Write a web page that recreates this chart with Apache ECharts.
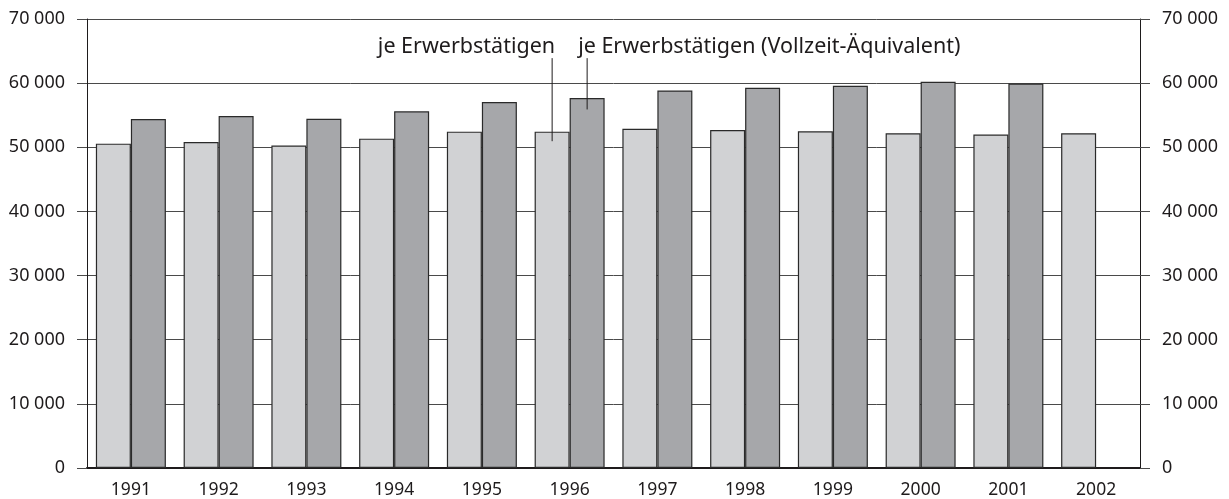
<!DOCTYPE html>
<html>
<head>
<meta charset="utf-8">
<script src="https://cdn.jsdelivr.net/npm/echarts@6/dist/echarts.min.js"></script>
<style>
html,body{margin:0;padding:0;background:#fff;}
#chart{width:1229px;height:499px;}
</style>
</head>
<body>
<div id="chart"></div>
<script>
var years = ['1991','1992','1993','1994','1995','1996','1997','1998','1999','2000','2001','2002'];
var jeErwerbstaetigen = [50570, 50830, 50260, 51350, 52440, 52440, 52900, 52690, 52490, 52190, 51980, 52190];
var jeVollzeit = [54400, 54870, 54460, 55600, 57050, 57670, 58850, 59270, 59580, 60200, 59950, null];
var yTickLabels = ['0','10 000','20 000','30 000','40 000','50 000','60 000','70 000'];
var seriesNames = ['je Erwerbstätigen', 'je Erwerbstätigen (Vollzeit-Äquivalent)'];

var FONT = '"Noto Sans", "Open Sans", sans-serif';
var TXT = '#1e1b1c';
var GRID = '#4a4a4a';
var BARW = 35;

var chart = echarts.init(document.getElementById('chart'), null, {renderer:'canvas'});

function yAxisCfg(pos, split){
  return {
    type:'value', position:pos, min:0, max:70000, interval:10000,
    axisLine:{show:true, lineStyle:{color:TXT, width:1}},
    axisTick:{show:true, length:10, inside:false, lineStyle:{color:GRID, width:1}},
    splitLine:{show:split, lineStyle:{color:GRID, width:1}},
    axisLabel:{
      margin:22, color:TXT, fontFamily:FONT, fontSize:18,
      formatter:function(v){ return yTickLabels[Math.round(v/10000)]; }
    }
  };
}

var option = {
  animation:false,
  backgroundColor:'#ffffff',
  grid:{left:87, right:89, top:19, bottom:30, containLabel:false},
  xAxis:{
    type:'category', data:years,
    axisLine:{show:true, lineStyle:{color:TXT, width:2}},
    axisTick:{show:false},
    axisLabel:{margin:13, color:TXT, fontFamily:FONT, fontSize:17.5},
    splitLine:{show:false}
  },
  yAxis:[yAxisCfg('left', true), yAxisCfg('right', false)],
  series:[
    {name:seriesNames[0], type:'bar', data:jeErwerbstaetigen, barWidth:BARW, barGap:'0%',
     itemStyle:{color:'#d1d2d4', borderColor:'#2a2a2a', borderWidth:1.2}},
    {name:seriesNames[1], type:'bar', data:jeVollzeit, barWidth:BARW, barGap:'0%',
     itemStyle:{color:'#a6a7aa', borderColor:'#2a2a2a', borderWidth:1.2}}
  ]
};
chart.setOption(option);

// Annotations pointing at the 1996 bars, positioned through the chart's own scales
var idx = years.indexOf('1996');
var cx = chart.convertToPixel({xAxisIndex:0}, idx);
var x1 = cx - BARW/2, x2 = cx + BARW/2;
var yTop = chart.convertToPixel({yAxisIndex:0}, 63900);
var yEnd1 = chart.convertToPixel({yAxisIndex:0}, 50950);
var yEnd2 = chart.convertToPixel({yAxisIndex:0}, 55900);
var yText = chart.convertToPixel({yAxisIndex:0}, 65650);

chart.setOption({
  graphic:[
    {type:'line', shape:{x1:x1, y1:yTop, x2:x1, y2:yEnd1}, style:{stroke:TXT, lineWidth:1}, z:100},
    {type:'line', shape:{x1:x2, y1:yTop, x2:x2, y2:yEnd2}, style:{stroke:TXT, lineWidth:1}, z:100},
    {type:'text', x:x1+3, y:yText, style:{text:seriesNames[0], fill:TXT, font:'21.5px ' + FONT, align:'right', verticalAlign:'middle'}, z:100},
    {type:'text', x:x2-9, y:yText, style:{text:seriesNames[1], fill:TXT, font:'21.5px ' + FONT, align:'left', verticalAlign:'middle'}, z:100}
  ]
});
</script>
</body>
</html>
